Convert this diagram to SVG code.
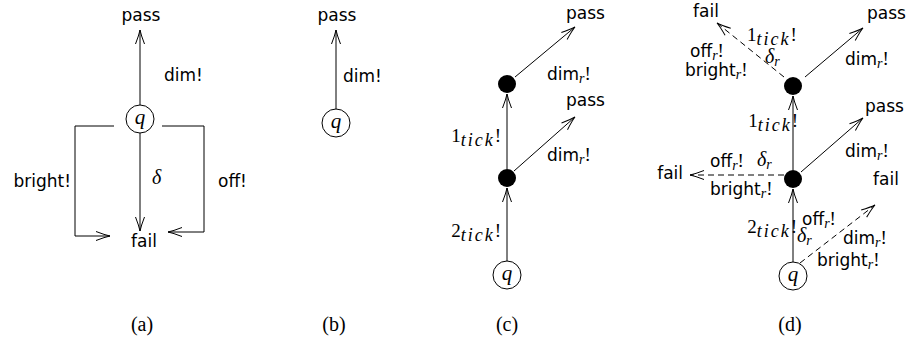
<svg xmlns="http://www.w3.org/2000/svg" width="906" height="343" viewBox="0 0 906 343">
<defs>
<style>
.s{font-family:"DejaVu Sans",sans-serif;font-size:17px;fill:#000}
.m{font-family:"Liberation Serif",serif;font-size:19px;fill:#000}
.mi{font-family:"Liberation Serif",serif;font-style:italic;fill:#000}
.r{font-family:"Liberation Serif",serif;font-style:italic;font-size:14px}
.ln{stroke:#000;stroke-width:1;fill:none}
.ar{marker-end:url(#ah)}
.dash{stroke-dasharray:6 4}
.cap{font-family:"Liberation Serif",serif;font-size:20px;text-anchor:middle}
.st{fill:#fff;stroke:#000;stroke-width:1}
.dot{fill:#000}
.c{text-anchor:middle}
.e{text-anchor:end}
.tk{font-size:18px;letter-spacing:2px}
</style>
<marker id="ah" viewBox="-15 -6 16 12" markerWidth="16" markerHeight="12" refX="0" refY="0" orient="auto" markerUnits="userSpaceOnUse" overflow="visible">
<path d="M-14,-4.5 Q-5,-1 0,0 Q-5,1 -14,4.5" fill="none" stroke="#000" stroke-width="1"/>
</marker>
</defs>

<g id="connectors">
<!-- (a) -->
<line class="ln ar" x1="140" y1="105" x2="140" y2="30"/>
<polyline class="ln ar" points="114,126 75,126 75,236 110,236"/>
<polyline class="ln ar" points="162,126 204,126 204,232 168,232"/>
<line class="ln ar" x1="140" y1="133" x2="140" y2="231"/>
<!-- (b) -->
<line class="ln ar" x1="336" y1="109" x2="336" y2="30"/>
<!-- (c) -->
<line class="ln ar" x1="507" y1="261" x2="507" y2="188"/>
<line class="ln ar" x1="507" y1="169" x2="507" y2="94"/>
<line class="ln ar" x1="514" y1="171" x2="575" y2="117"/>
<line class="ln ar" x1="515" y1="77" x2="575" y2="27"/>
<!-- (d) -->
<line class="ln ar" x1="793" y1="262" x2="793" y2="189"/>
<line class="ln ar" x1="793" y1="170" x2="793" y2="96"/>
<line class="ln ar" x1="805" y1="77" x2="863" y2="28"/>
<line class="ln ar dash" x1="784" y1="77" x2="717" y2="23"/>
<line class="ln ar" x1="801" y1="172" x2="863" y2="118"/>
<line class="ln ar dash" x1="784" y1="175" x2="690" y2="175"/>
<line class="ln ar dash" x1="800" y1="263" x2="875" y2="205"/>
</g>

<g id="labels">
<!-- (a) -->
<text class="s" x="164" y="81">dim!</text>
<text class="s e" x="71" y="187">bright!</text>
<text class="s" x="218" y="187">off!</text>
<text class="mi" font-size="20" x="152" y="184">δ</text>
<!-- (b) -->
<text class="s" x="343" y="82">dim!</text>
<!-- (c) -->
<text class="m e" x="501" y="237">2<tspan class="mi tk" dy="4">tick</tspan><tspan dy="-4">!</tspan></text>
<text class="m e" x="501" y="142">1<tspan class="mi tk" dy="4">tick</tspan><tspan dy="-4">!</tspan></text>
<text class="s" x="547" y="161">dim<tspan class="r" dy="3">r</tspan><tspan class="m" dy="-3">!</tspan></text>
<text class="s" x="547" y="80">dim<tspan class="r" dy="3">r</tspan><tspan class="m" dy="-3">!</tspan></text>
<!-- (d) upper -->
<text class="s" x="845" y="65">dim<tspan class="r" dy="3">r</tspan><tspan class="m" dy="-3">!</tspan></text>
<text class="m" x="747" y="41">1<tspan class="mi tk" dy="4">tick</tspan><tspan dy="-4">!</tspan></text>
<text class="mi" font-size="20" x="765" y="63">δ<tspan font-size="14" dy="3">r</tspan></text>
<text class="s" x="690" y="57">off<tspan class="r" dy="3">r</tspan><tspan class="m" dy="-3">!</tspan></text>
<text class="s" x="685" y="76">bright<tspan class="r" dy="3">r</tspan><tspan class="m" dy="-3">!</tspan></text>
<!-- (d) middle -->
<text class="m e" x="798" y="127">1<tspan class="mi tk" dy="4">tick</tspan><tspan dy="-4">!</tspan></text>
<text class="s" x="845" y="157">dim<tspan class="r" dy="3">r</tspan><tspan class="m" dy="-3">!</tspan></text>
<text class="s" x="710" y="167">off<tspan class="r" dy="3">r</tspan><tspan class="m" dy="-3">!</tspan></text>
<text class="mi" font-size="20" x="757" y="166">δ<tspan font-size="14" dy="3">r</tspan></text>
<text class="s" x="710" y="195">bright<tspan class="r" dy="3">r</tspan><tspan class="m" dy="-3">!</tspan></text>
<!-- (d) lower -->
<text class="m e" x="797" y="233">2<tspan class="mi tk" dy="4">tick</tspan><tspan dy="-4">!</tspan></text>
<text class="s" x="802" y="225">off<tspan class="r" dy="3">r</tspan><tspan class="m" dy="-3">!</tspan></text>
<text class="mi" font-size="20" x="797" y="242">δ<tspan font-size="14" dy="3">r</tspan></text>
<text class="s" x="843" y="244">dim<tspan class="r" dy="3">r</tspan><tspan class="m" dy="-3">!</tspan></text>
<text class="s" x="817" y="266">bright<tspan class="r" dy="3">r</tspan><tspan class="m" dy="-3">!</tspan></text>
</g>

<!-- nodes (a) -->
<g id="a-pass"><text class="s c" x="141" y="21">pass</text></g>
<g id="a-q"><circle class="st" cx="140" cy="119" r="14"/><text class="mi c" font-size="21" x="140" y="124">q</text></g>
<g id="a-fail"><text class="s c" x="144" y="247">fail</text></g>
<!-- nodes (b) -->
<g id="b-pass"><text class="s c" x="337" y="21">pass</text></g>
<g id="b-q"><circle class="st" cx="336" cy="123" r="14"/><text class="mi c" font-size="21" x="336" y="128">q</text></g>
<!-- nodes (c) -->
<g id="c-q"><circle class="st" cx="507" cy="275" r="14"/><text class="mi c" font-size="21" x="507" y="280">q</text></g>
<g id="c-s1"><circle class="dot" cx="507" cy="178" r="9"/></g>
<g id="c-s2"><circle class="dot" cx="507" cy="84" r="9"/></g>
<g id="c-pass1"><text class="s" x="566" y="106">pass</text></g>
<g id="c-pass2"><text class="s" x="566" y="19">pass</text></g>
<!-- nodes (d) -->
<g id="d-q"><circle class="st" cx="793" cy="276" r="14"/><text class="mi c" font-size="21" x="793" y="281">q</text></g>
<g id="d-s1"><circle class="dot" cx="793" cy="179" r="9"/></g>
<g id="d-s2"><circle class="dot" cx="793" cy="86" r="9"/></g>
<g id="d-pass1"><text class="s" x="865" y="112">pass</text></g>
<g id="d-pass2"><text class="s" x="867" y="19">pass</text></g>
<g id="d-fail1"><text class="s c" x="706" y="17">fail</text></g>
<g id="d-fail2"><text class="s e" x="683" y="179">fail</text></g>
<g id="d-fail3"><text class="s" x="873" y="185">fail</text></g>

<g id="captions">
<text class="cap" x="142" y="331">(a)</text>
<text class="cap" x="334" y="331">(b)</text>
<text class="cap" x="507" y="331">(c)</text>
<text class="cap" x="790" y="331">(d)</text>
</g>
</svg>
